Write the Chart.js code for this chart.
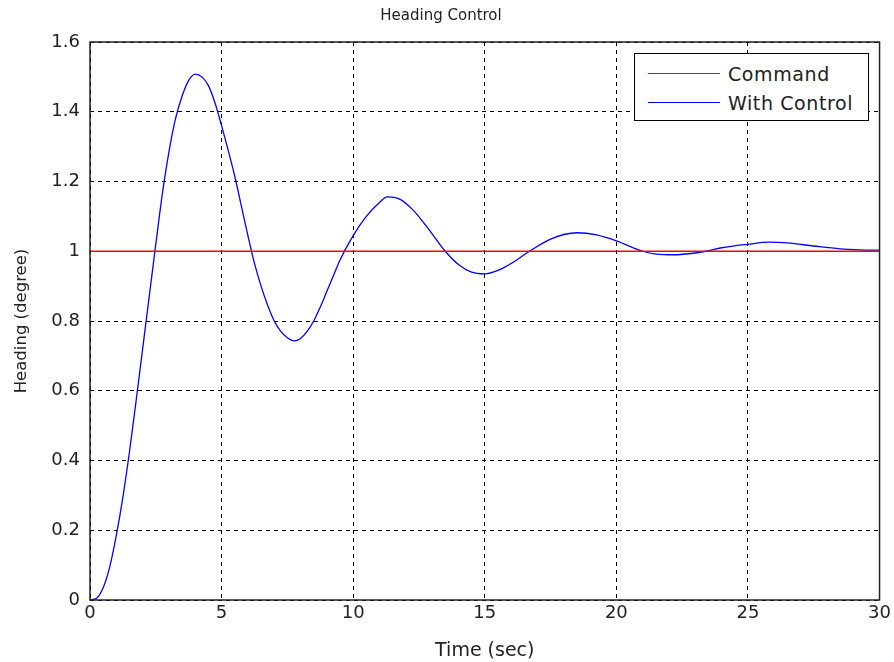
<!DOCTYPE html>
<html>
<head>
  <meta charset="UTF-8">
  <title>Heading Control</title>
  <script src="https://cdn.jsdelivr.net/npm/chart.js"></script>
  <style>
    body {
      margin: 0;
      background: white;
      font-family: 'DejaVu Sans', sans-serif;
    }
    #wrap {
      position: relative;
      width: 894px;
      height: 662px;
    }
    #legendBox {
      position: absolute;
      left: 634px;
      top: 53px;
      width: 235px;
      height: 68px;
      border: 1px solid #000;
      background: white;
      box-sizing: border-box;
      padding-top: 5px;
    }
    #legendBox .row {
      display: flex;
      align-items: center;
      height: 29px;
      font-size: 19px;
      letter-spacing: 0.6px;
      color: #222;
    }
    #legendBox .swatch {
      width: 72px;
      height: 1px;
      margin-left: 13px;
      margin-right: 8px;
    }
  </style>
</head>
<body>
  <div id="wrap">
    <canvas id="headingChart" width="894" height="662"></canvas>
    <div id="legendBox"></div>
  </div>

  <script>
    // step response
    const timeSec = [0, 0.25, 0.5, 0.75, 1.0, 1.25, 1.5, 1.75, 2.0, 2.25, 2.5, 2.75, 3.0, 3.25, 3.5, 3.75,
      4.0, 4.25, 4.5, 4.75, 5.0, 5.25, 5.5, 5.75, 6.0, 6.25, 6.5, 6.75, 7.0, 7.25, 7.5, 7.75,
      8.0, 8.25, 8.5, 8.75, 9.0, 9.25, 9.5, 10.0, 10.5, 11.0, 11.3, 11.75, 12.25, 12.75, 13.0, 13.5,
      14.0, 14.5, 15.0, 15.5, 16.0, 16.7, 17.5, 18.5, 19.25, 20.0, 21.0, 21.5, 22.2, 23.0, 23.4,
      24.0, 25.0, 25.8, 26.5, 27.5, 28.5, 29.25, 30.0];
    const withControl = [0, 0.005, 0.035, 0.095, 0.185, 0.295, 0.425, 0.57, 0.72, 0.87, 1.02, 1.165, 1.285, 1.38, 1.445, 1.49,
      1.508, 1.50, 1.475, 1.425, 1.36, 1.29, 1.215, 1.13, 1.045, 0.965, 0.90, 0.845, 0.80, 0.77, 0.752, 0.743,
      0.75, 0.77, 0.80, 0.84, 0.885, 0.93, 0.975, 1.045, 1.10, 1.14, 1.156, 1.15, 1.12, 1.075, 1.05, 1.0,
      0.962, 0.94, 0.935, 0.945, 0.965, 1.0, 1.035, 1.053, 1.047, 1.03, 1.0, 0.992, 0.99, 0.995, 1.0,
      1.01, 1.02, 1.026, 1.024, 1.015, 1.007, 1.004, 1.003];

    const commandTime = [0, 30];
    const commandValue = [1, 1];

    const xTicks = [0, 5, 10, 15, 20, 25, 30];
    const yTicks = [0, 0.2, 0.4, 0.6, 0.8, 1, 1.2, 1.4, 1.6];
    const yTickLabels = ['0', '0.2', '0.4', '0.6', '0.8', '1', '1.2', '1.4', '1.6'];

    const font = "'DejaVu Sans', sans-serif";

    // box round the plot area (MATLAB style)
    const frame = {
      id: 'frame',
      afterDraw(chart) {
        const { ctx, chartArea } = chart;
        ctx.save();
        ctx.strokeStyle = '#222';
        ctx.lineWidth = 1.5;
        ctx.strokeRect(chartArea.left, chartArea.top,
          chartArea.right - chartArea.left, chartArea.bottom - chartArea.top);
        ctx.restore();
      }
    };

    const chart = new Chart(document.getElementById('headingChart'), {
      type: 'line',
      data: {
        datasets: [{
          label: 'Command',
          data: commandTime.map((t, i) => ({ x: t, y: commandValue[i] })),
          borderColor: '#ff0000',
          borderWidth: 1.3,
          pointRadius: 0
        }, {
          label: 'With Control',
          data: timeSec.map((t, i) => ({ x: t, y: withControl[i] })),
          borderColor: '#0000ff',
          borderWidth: 1.3,
          pointRadius: 0,
          cubicInterpolationMode: 'monotone'
        }]
      },
      options: {
        responsive: false,
        animation: false,
        layout: { padding: { right: 12, left: 0 } },
        plugins: {
          legend: { display: false },
          tooltip: { enabled: false },
          title: {
            display: true,
            text: 'Heading Control',
            color: '#222',
            font: { family: font, size: 15, weight: 'normal' },
            padding: { top: 7, bottom: 17 }
          }
        },
        scales: {
          x: {
            type: 'linear',
            min: 0,
            max: 30,
            afterBuildTicks: scale => { scale.ticks = xTicks.map(v => ({ value: v })); },
            afterFit: scale => { scale.height = 62; },
            ticks: {
              color: '#222',
              padding: 3,
              maxRotation: 0,
              font: { family: font, size: 18 }
            },
            grid: {
              color: '#000',
              lineWidth: 1,
              drawTicks: false
            },
            border: { display: false, dash: [4, 4] },
            title: {
              display: true,
              text: 'Time (sec)',
              color: '#222',
              font: { family: font, size: 19 },
              padding: { top: 0, bottom: 0 }
            }
          },
          y: {
            min: 0,
            max: 1.6,
            afterBuildTicks: scale => { scale.ticks = yTicks.map(v => ({ value: v })); },
            afterFit: scale => { scale.width = 90; },
            ticks: {
              color: '#222',
              padding: 10,
              font: { family: font, size: 18 },
              callback: (value, index) => yTickLabels[index]
            },
            grid: {
              color: '#000',
              lineWidth: 1,
              drawTicks: false
            },
            border: { display: false, dash: [4, 4] },
            title: {
              display: true,
              text: 'Heading (degree)',
              color: '#222',
              font: { family: font, size: 16.5 },
              padding: { top: 12, bottom: 0 }
            }
          }
        }
      },
      plugins: [frame]
    });

    // legend box inside the plot, built from the datasets
    const legendBox = document.getElementById('legendBox');
    chart.data.datasets.forEach(ds => {
      const row = document.createElement('div');
      row.className = 'row';
      const sw = document.createElement('div');
      sw.className = 'swatch';
      sw.style.background = ds.borderColor;
      const label = document.createElement('span');
      label.textContent = ds.label;
      row.appendChild(sw);
      row.appendChild(label);
      legendBox.appendChild(row);
    });
  </script>
</body>
</html>
